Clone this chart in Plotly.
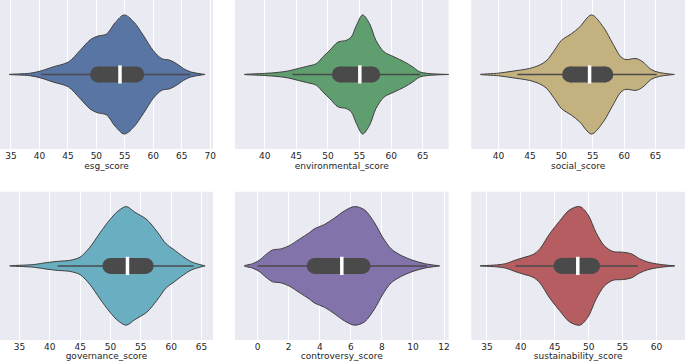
import plotly.graph_objects as go
from plotly.subplots import make_subplots

# ---- data ----
names = ["esg_score", "environmental_score", "social_score",
         "governance_score", "controversy_score", "sustainability_score"]
colors = ["#5875A4", "#5F9E6E", "#C3B27F", "#6AAFC1", "#8373AB", "#B55D60"]

esg_x = [34.7, 38.3, 40.1, 42.4, 45.1, 47.1, 48.9, 50.1, 51.8, 53.3, 54.9, 56.5, 58.3, 60.0, 61.5, 62.9, 64.1, 65.3, 66.5, 69.1]
esg_d = [0, .02, .055, .127, .21, .40, .58, .64, .68, .87, 1.0, .89, .65, .40, .265, .24, .18, .10, .045, 0]

env_x = [36.8, 40.0, 42.1, 43.7, 45.3, 46.8, 48.2, 49.2, 50.3, 51.6, 52.9, 53.7, 54.5, 55.5, 56.6, 57.6, 58.9, 60.5, 62.1, 63.4, 64.5, 65.8, 69.2]
env_d = [0, .018, .035, .058, .10, .139, .183, .294, .406, .544, .572, .628, .822, 1.0, .85, .572, .378, .294, .211, .128, .044, .017, 0]

soc_x = [37.1, 40.0, 42.3, 44.9, 46.5, 47.6, 48.9, 50.0, 51.6, 52.9, 54.8, 56.7, 58.2, 59.5, 60.3, 61.9, 63.0, 64.3, 65.6, 68.0]
soc_d = [0, .022, .056, .10, .156, .228, .406, .572, .683, .794, 1.0, .794, .517, .294, .25, .267, .211, .083, .033, 0]

gov_x = [33.4, 37.3, 39.5, 41.4, 43.3, 45.0, 46.6, 48.3, 49.9, 51.3, 52.6, 54.0, 56.0, 57.6, 59.2, 60.3, 61.7, 63.4, 65.6]
gov_d = [0, .022, .055, .077, .093, .148, .313, .56, .78, .929, 1.0, .907, .78, .588, .368, .286, .176, .066, 0]

con_x = [-0.86, -0.32, 0.1, 0.54, 0.97, 1.5, 2.04, 2.69, 3.33, 3.66, 4.3, 4.95, 5.6, 6.24, 6.88, 7.53, 8.06, 8.6, 9.25, 10.0, 10.75, 11.72]
con_d = [0, .038, .093, .192, .269, .286, .341, .451, .56, .626, .698, .808, .929, 1.0, .945, .725, .478, .286, .176, .093, .038, 0]

sus_x = [34.0, 36.4, 37.8, 39.1, 40.3, 41.8, 42.8, 44.2, 45.7, 47.2, 48.7, 49.9, 51.1, 52.3, 53.6, 55.0, 56.3, 57.5, 58.7, 60.4, 62.7]
sus_d = [0, .016, .038, .093, .137, .192, .286, .533, .753, .945, 1.0, .863, .56, .341, .242, .231, .203, .121, .066, .027, 0]

# box statistics: whisker low, q1, median, q3, whisker high
whisk_lo = [40.3, 44.4, 43.0, 41.3, 0.0, 39.2]
q1 = [50.3, 51.9, 51.4, 50.0, 3.68, 46.0]
median = [54.15, 55.05, 54.5, 52.8, 5.42, 48.4]
q3 = [57.0, 57.0, 57.0, 55.8, 6.75, 50.5]
whisk_hi = [66.5, 64.6, 65.2, 63.7, 10.9, 57.25]

ticks = [[35, 40, 45, 50, 55, 60, 65, 70],
         [40, 45, 50, 55, 60, 65],
         [40, 45, 50, 55, 60, 65],
         [35, 40, 45, 50, 55, 60, 65],
         [0, 2, 4, 6, 8, 10, 12],
         [35, 40, 45, 50, 55, 60]]

xs = [esg_x, env_x, soc_x, gov_x, con_x, sus_x]
ds = [esg_d, env_d, soc_d, gov_d, con_d, sus_d]

# ---- layout settings ----
xranges = [[33.07, 70.5], [35.3, 69.1], [35.65, 69.7],
           [31.8, 66.9], [-1.46, 12.3], [32.7, 64.2]]
xdomains = [[0.0, 0.311], [0.343, 0.655], [0.688, 1.0]]
ydomains = [[0.562, 1.0], [0.0, 0.436]]
HALF = 0.4
outline = "#3F3F3F"
boxcol = "#4A4A4A"

fig = make_subplots(rows=2, cols=3, horizontal_spacing=0.03, vertical_spacing=0.1)

for i in range(6):
    r, c = i // 3 + 1, i % 3 + 1
    x = xs[i]
    hw = [d * HALF for d in ds[i]]
    px = x + x[::-1]
    py = hw + [-h for h in hw[::-1]]
    fig.add_trace(go.Scatter(x=px, y=py, mode="lines", fill="toself",
                             fillcolor=colors[i],
                             line=dict(color=outline, width=1, shape="spline", smoothing=0.9),
                             hoverinfo="skip", showlegend=False), row=r, col=c)
    fig.add_trace(go.Scatter(x=[whisk_lo[i], whisk_hi[i]], y=[0, 0], mode="lines",
                             line=dict(color=boxcol, width=1.5),
                             hoverinfo="skip", showlegend=False), row=r, col=c)
    fig.add_trace(go.Scatter(x=[q1[i], q3[i]], y=[0, 0], mode="lines+markers",
                             line=dict(color=boxcol, width=16),
                             marker=dict(color=boxcol, size=16, symbol="circle", line=dict(width=0)),
                             hoverinfo="skip", showlegend=False), row=r, col=c)
    fig.add_trace(go.Scatter(x=[median[i]], y=[0], mode="markers",
                             marker=dict(symbol="line-ns", size=13,
                                         line=dict(color="white", width=3.5)),
                             hoverinfo="skip", showlegend=False), row=r, col=c)

    ax = "xaxis" if i == 0 else f"xaxis{i + 1}"
    ay = "yaxis" if i == 0 else f"yaxis{i + 1}"
    fig.layout[ax].update(domain=xdomains[c - 1], range=xranges[i],
                          tickmode="array", tickvals=ticks[i],
                          ticktext=[str(t) for t in ticks[i]],
                          showgrid=True, gridcolor="white", gridwidth=1.2,
                          zeroline=False, showline=False, ticks="",
                          tickfont=dict(family="DejaVu Sans", size=9, color="#262626"),
                          title=dict(text=names[i], standoff=2,
                                     font=dict(family="DejaVu Sans", size=9, color="#262626")))
    fig.layout[ay].update(domain=ydomains[r - 1], range=[-0.5, 0.5],
                          showgrid=False, zeroline=False, showticklabels=False,
                          ticks="", showline=False)

fig.update_layout(width=685, height=361,
                  margin=dict(l=0, r=0, t=0, b=21, autoexpand=False),
                  paper_bgcolor="white", plot_bgcolor="#EAEAF2",
                  font=dict(family="DejaVu Sans", color="#262626"))

fig.write_html("out.html", config={"displayModeBar": False},
               post_script="document.body.style.margin='0';document.body.style.overflow='hidden';")
